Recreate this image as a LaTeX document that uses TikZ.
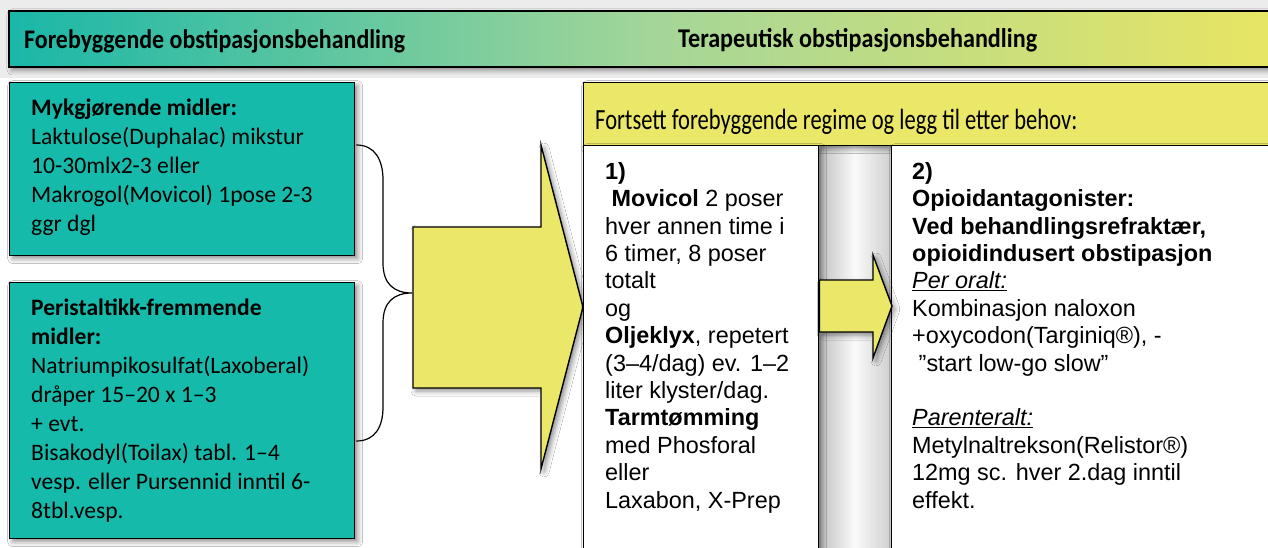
\documentclass[tikz,border=0pt]{standalone}
\usepackage{fontspec}
\setmainfont{Carlito}
\newfontfamily\arialf{Liberation Sans}
\usetikzlibrary{shadows.blur,calc}
\definecolor{tealc}{RGB}{21,186,170}
\definecolor{yel}{RGB}{235,231,104}
\definecolor{bteal}{RGB}{26,183,168}
\definecolor{bgreen}{RGB}{165,214,152}
\definecolor{byellow}{RGB}{236,230,96}
\definecolor{bgg}{RGB}{236,236,236}
\begin{document}
\begin{tikzpicture}[x=1pt,y=-1pt,
  shad/.style={blur shadow={shadow xshift=3pt,shadow yshift=-3pt,shadow blur radius=5pt,shadow opacity=45}},
  tealbox/.style={draw=black,line width=1.4pt,fill=tealc,inner sep=0pt,anchor=north west,shad},
  whitebox/.style={draw=black,line width=1.4pt,fill=white,inner sep=0pt,anchor=north west,shad},
  yelbox/.style={draw=black,line width=1.4pt,fill=yel,inner sep=0pt,anchor=north west,shad},
  bannerbox/.style={draw=black,line width=2pt,left color=bteal,right color=byellow,middle color=bgreen,inner sep=0pt,anchor=north west,shad},
  blockarrow/.style={draw=black,line width=1.4pt,fill=yel,line join=miter,shad},
  leftlines/.style={inner sep=0pt,anchor=base west,font=\fontsize{23.6}{29}\selectfont},
  rightlines/.style={inner sep=0pt,anchor=base west,font=\arialf\fontsize{23.4}{27.4}\selectfont},
  bracestyle/.style={draw=black,line width=1.2pt}
]
\useasboundingbox (0,0) rectangle (1268,548);
\begin{scope}
\clip (0,0) rectangle (1268,548);
\fill[white] (0,0) rectangle (1268,548);
\fill[bgg] (0,0) rectangle (1268,78);
% top banner
\node[bannerbox,minimum width=1300pt,minimum height=56pt] (banner) at (8,10) {};
\node[inner sep=0pt,anchor=base west] (bt1) at (24,48.5)
  {\scalebox{1}[1.12]{\resizebox{381pt}{!}{\fontsize{23}{28}\selectfont\bfseries Forebyggende obstipasjonsbehandling}}};
\node[inner sep=0pt,anchor=base west] (bt2) at (678,48)
  {\scalebox{1}[1.12]{\resizebox{359pt}{!}{\fontsize{23}{28}\selectfont\bfseries Terapeutisk obstipasjonsbehandling}}};
% left boxes
\node[tealbox,minimum width=345pt,minimum height=173pt] (lb1) at (9,82) {};
\node[tealbox,minimum width=345pt,minimum height=256pt] (lb2) at (9,282) {};
\node[leftlines] (lt1) at (31,115.5) {\begin{tabular}[t]{@{}l@{}}
\textbf{Mykgjørende midler:}\\
Laktulose(Duphalac) mikstur\\
10-30mlx2-3 eller\\
Makrogol(Movicol) 1pose 2-3\\
ggr dgl
\end{tabular}};
\node[leftlines] (lt2) at (31,315) {\begin{tabular}[t]{@{}l@{}}
\textbf{Peristaltikk-fremmende}\\
\textbf{midler:}\\
Natriumpikosulfat(Laxoberal)\\
dråper 15–20 x 1–3\\
+ evt.\\
Bisakodyl(Toilax) tabl. 1–4\\
vesp. eller Pursennid inntil 6-\\
8tbl.vesp.
\end{tabular}};
% brace
\coordinate (braceTop) at ($(lb1.north east)+(1,63)$);
\coordinate (braceBot) at ($(lb2.north east)+(1,159)$);
\coordinate (braceTip) at (412,293);
\draw[bracestyle] (braceTop) .. controls (375,145) and (383,160) .. (383,180) -- (383,263)
  .. controls (383,284) and (394,293) .. (braceTip)
  .. controls (394,293) and (383,302) .. (383,323) -- (383,407)
  .. controls (383,427) and (375,441) .. (braceBot);
% big arrow
\draw[blockarrow] (413,227) -- (541,227) -- (541,145) -- (583,307) -- (541,469) -- (541,388) -- (413,388) -- cycle;
% gap shading between the two therapy boxes
\fill[left color=gray!50,right color=gray!38,middle color=gray!4] (818,145) rectangle (891,560);
% right boxes
\node[yelbox,minimum width=720pt,minimum height=63pt] (hdr) at (583,82) {};
\node[inner sep=0pt,anchor=base west] (hdrt) at (595,130)
  {\scalebox{1}[1.3]{\resizebox{482pt}{!}{\fontsize{20}{24}\selectfont Fortsett forebyggende regime og legg til etter behov:}}};
\node[whitebox,minimum width=235pt,minimum height=420pt] (rb1) at (583,145) {};
\node[whitebox,minimum width=400pt,minimum height=420pt] (rb2) at (891,145) {};
% small arrow
\draw[blockarrow] (rb1.east |- 0,280) -- (873,280) -- (873,255) -- (892,306) -- (873,358) -- (873,332) -- (rb1.east |- 0,332) -- cycle;
\node[rightlines] (rt1) at (605,179.3) {\begin{tabular}[t]{@{}l@{}}
\textbf{1)}\\
\ \textbf{Movicol} 2 poser\\
hver annen time i\\
6 timer, 8 poser\\
totalt\\
og\\
\textbf{Oljeklyx}, repetert\\
(3–4/dag) ev. 1–2\\
liter klyster/dag.\\
\textbf{Tarmtømming}\\
med Phosforal\\
eller\\
Laxabon, X-Prep
\end{tabular}};
\node[rightlines] (rt2) at (912,179.3) {\begin{tabular}[t]{@{}l@{}}
\textbf{2)}\\
\textbf{Opioidantagonister:}\\
\textbf{Ved behandlingsrefraktær,}\\
\textbf{opioidindusert obstipasjon}\\
\underline{\textit{Per oralt:}}\\
Kombinasjon naloxon\\
+oxycodon(Targiniq®), -\\
\ ”start low-go slow”\\
\\
\underline{\textit{Parenteralt:}}\\
Metylnaltrekson(Relistor®)\\
12mg sc. hver 2.dag inntil\\
effekt.
\end{tabular}};
\end{scope}
\end{tikzpicture}
\end{document}
